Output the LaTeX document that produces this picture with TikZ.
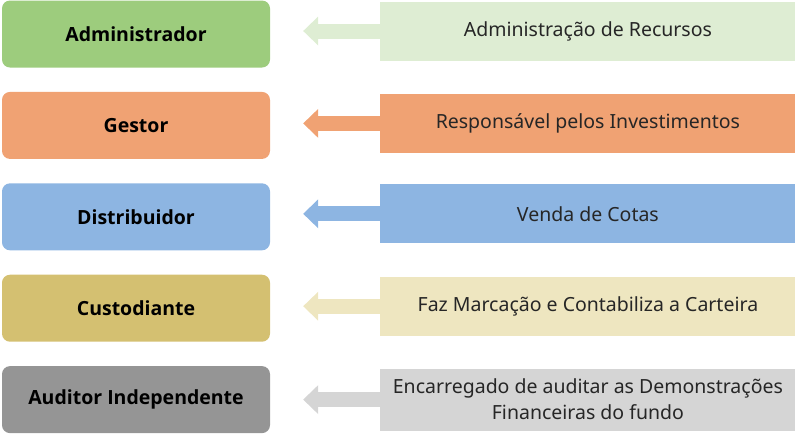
\documentclass[tikz,border=0pt]{standalone}
\usepackage{fontspec}
\setmainfont{Noto Sans}
\newfontfamily\rolefont{Open Sans}
\usetikzlibrary{positioning, arrows.meta}

\definecolor{admcolor}{HTML}{9DCC7D}
\definecolor{admlight}{HTML}{DEEDD3}
\definecolor{gescolor}{HTML}{F0A273}
\definecolor{discolor}{HTML}{8DB5E2}
\definecolor{cuscolor}{HTML}{D4C071}
\definecolor{cuslight}{HTML}{EEE6C0}
\definecolor{audcolor}{HTML}{959595}
\definecolor{audlight}{HTML}{D5D5D5}

\begin{document}
\begin{tikzpicture}[x=1pt, y=-1pt, node distance=24pt,
	role/.style={rounded corners=8pt, minimum width=268pt, minimum height=67pt,
		font=\fontsize{19.5}{24}\rolefont\bfseries},
	task/.style={anchor=west, minimum width=415pt, minimum height=59pt,
		font=\fontsize{19.5}{26}\selectfont, align=center, text=black!85},
	flow/.style={line width=15pt, -{Triangle[length=15pt, width=29pt, line width=0pt]}}]
	\useasboundingbox (0,0) rectangle (800,440);

	% papeis
	\node[role, fill=admcolor] (adm) at (136,34) {Administrador};
	\node[role, fill=gescolor, below=of adm] (ges) {Gestor};
	\node[role, fill=discolor, below=of ges] (dis) {Distribuidor};
	\node[role, fill=cuscolor, below=of dis] (cus) {Custodiante};
	\node[role, fill=audcolor, below=of cus] (aud) {Auditor Independente};

	% funcoes
	\node[task, fill=admlight] (adm-t) at ([xshift=110pt, yshift=3pt]adm.east) {Administração de Recursos};
	\node[task, fill=gescolor] (ges-t) at ([xshift=110pt, yshift=2pt]ges.east) {Responsável pelos Investimentos};
	\node[task, fill=discolor] (dis-t) at ([xshift=110pt, yshift=3pt]dis.east) {Venda de Cotas};
	\node[task, fill=cuslight] (cus-t) at ([xshift=110pt, yshift=2pt]cus.east) {Faz Marcação e Contabiliza a Carteira};
	\node[task, fill=audlight, minimum height=62pt] (aud-t) at ([xshift=110pt]aud.east)
		{Encarregado de auditar as Demonstrações\\Financeiras do fundo};

	\draw[flow, admlight] (adm-t.west) -- ([xshift=33pt]adm.east |- adm-t.west);
	\draw[flow, gescolor] (ges-t.west) -- ([xshift=33pt]ges.east |- ges-t.west);
	\draw[flow, discolor] (dis-t.west) -- ([xshift=33pt]dis.east |- dis-t.west);
	\draw[flow, cuslight] (cus-t.west) -- ([xshift=33pt]cus.east |- cus-t.west);
	\draw[flow, audlight] (aud-t.west) -- ([xshift=33pt]aud.east |- aud-t.west);
\end{tikzpicture}
\end{document}
